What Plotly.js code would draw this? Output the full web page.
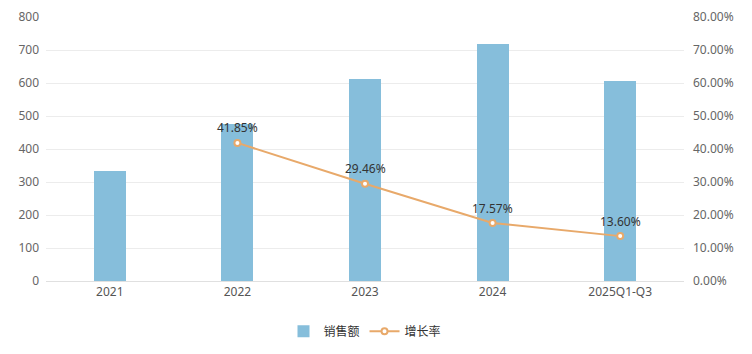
<!DOCTYPE html>
<html>
<head>
<meta charset="utf-8">
<script src="https://cdn.plot.ly/plotly-3.0.1.min.js"></script>
<style>html,body{margin:0;padding:0;background:#fff;}#chart{width:752px;height:354px;}</style>
</head>
<body>
<div id="chart"></div>
<script>
const categories = ['2021', '2022', '2023', '2024', '2025Q1-Q3'];
const sales = [333, 476, 611, 718, 605];
const growthCats = ['2022', '2023', '2024', '2025Q1-Q3'];
const growth = [41.85, 29.46, 17.57, 13.60];
const growthLabels = ['41.85%', '29.46%', '17.57%', '13.60%'];
const leftTicks = [0, 100, 200, 300, 400, 500, 600, 700, 800];
const rightTicks = [0, 10, 20, 30, 40, 50, 60, 70, 80];
const rightTickText = ['0.00%', '10.00%', '20.00%', '30.00%', '40.00%', '50.00%', '60.00%', '70.00%', '80.00%'];

const font = '"Noto Sans", "Noto Sans CJK SC", sans-serif';

const traces = [
  {
    type: 'bar', name: '销售额', x: categories, y: sales,
    marker: {color: '#86bedb'}, width: 0.25, yaxis: 'y', hoverinfo: 'none'
  },
  {
    type: 'scatter', mode: 'lines+markers', name: '增长率',
    x: growthCats, y: growth, yaxis: 'y2',
    line: {color: '#e8a96a', width: 2},
    marker: {size: 6, color: '#ffffff', line: {color: '#e8a96a', width: 2}},
    cliponaxis: false, hoverinfo: 'none'
  }
];

const annotations = growthCats.map((c, i) => ({
  x: categories.indexOf(c), y: growth[i], xref: 'x', yref: 'y2', text: growthLabels[i],
  showarrow: false, yshift: 15, font: {family: font, size: 12, color: '#333'}
}));

const layout = {
  width: 752, height: 354,
  margin: {l: 46, r: 68, t: 17, b: 73, autoexpand: false},
  paper_bgcolor: '#fff', plot_bgcolor: '#fff',
  font: {family: font, size: 12, color: '#666'},
  bargap: 0,
  annotations: annotations,
  xaxis: {
    type: 'category', categoryorder: 'array', categoryarray: categories,
    range: [-0.5, categories.length - 0.5],
    showgrid: false, showline: true, linecolor: '#e0e0e0', linewidth: 1,
    ticks: '', tickfont: {size: 12, color: '#555'}, fixedrange: true
  },
  yaxis: {
    range: [0, 800], tickvals: leftTicks, ticktext: leftTicks.map(String),
    showgrid: true, gridcolor: '#ececec', gridwidth: 1, zeroline: false,
    showline: false, ticks: '', tickfont: {size: 12, color: '#666'}, ticklabelstandoff: 6
  },
  yaxis2: {
    range: [0, 80], tickvals: rightTicks, ticktext: rightTickText,
    overlaying: 'y', side: 'right', showgrid: false, zeroline: false,
    showline: false, ticks: '', tickfont: {size: 12, color: '#666'}, ticklabelstandoff: 8
  },
  showlegend: true,
  legend: {
    orientation: 'h', x: 0.5, xanchor: 'center', y: -0.19, yanchor: 'middle',
    font: {size: 12, color: '#333'}, itemwidth: 30
  }
};

Plotly.newPlot('chart', traces, layout, {displayModeBar: false, staticPlot: true});
</script>
</body>
</html>
